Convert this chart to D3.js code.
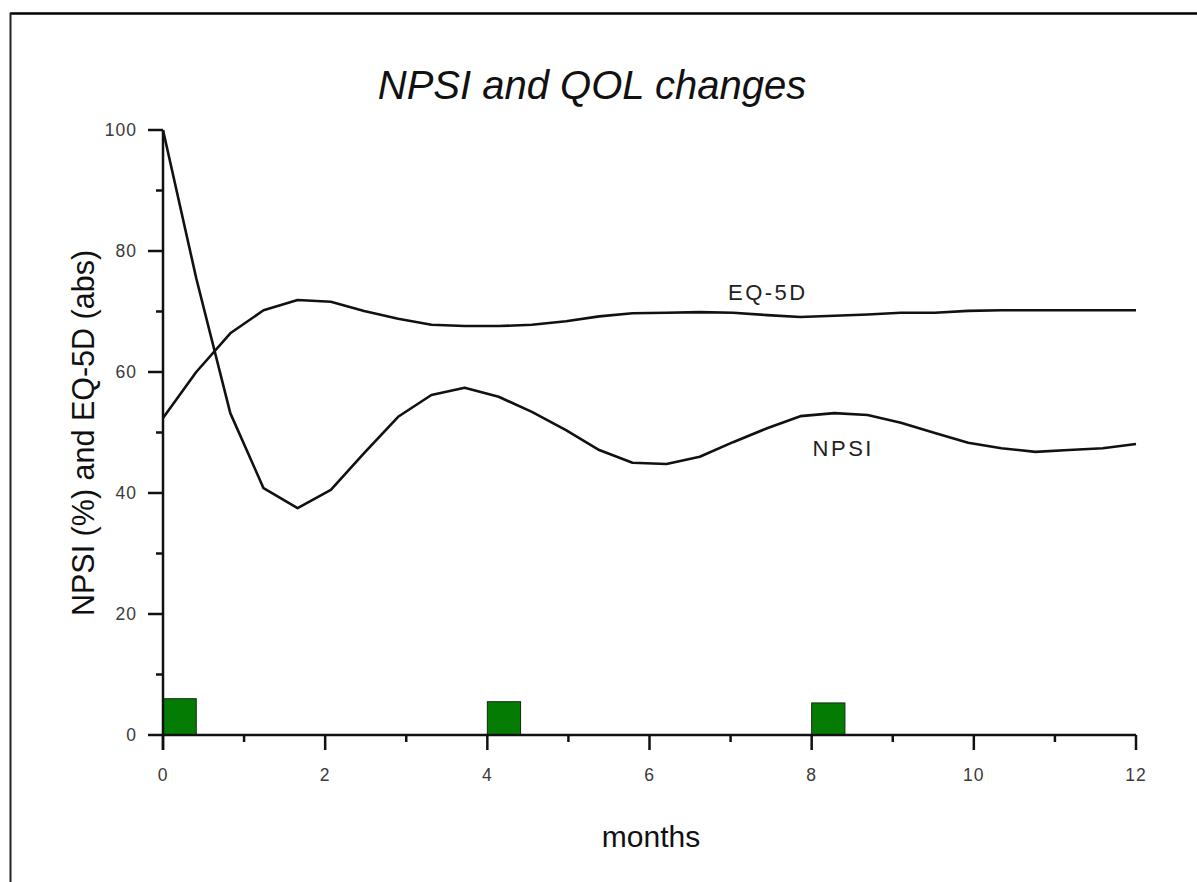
<!DOCTYPE html>
<html>

<head>
    <meta charset="utf-8">
    <style>
        body {
            margin: 0;
            background: white;
            font-family: "Liberation Sans", Arial, Helvetica, sans-serif;
        }

        svg {
            display: block;
        }

        .tick-label {
            font-size: 17.5px;
            fill: #3a3a3a;
            letter-spacing: 1px;
        }
    </style>
</head>

<body>
    <svg width="1197" height="882"></svg>
</body>

<script src="https://d3js.org/d3.v7.min.js"></script>

<script>
    // months of each measurement
    let months = [0, 0.41, 0.83, 1.24, 1.66, 2.07, 2.48, 2.90, 3.31, 3.72,
        4.14, 4.55, 4.97, 5.38, 5.79, 6.21, 6.62, 7.03, 7.45, 7.86,
        8.28, 8.69, 9.10, 9.52, 9.93, 10.34, 10.76, 11.17, 11.59, 12]

    // NPSI in %
    let npsi = [100, 75.5, 53.2, 40.8, 37.5, 40.5, 46.6, 52.6, 56.2, 57.4,
        55.9, 53.4, 50.4, 47.1, 45.0, 44.8, 46.0, 48.4, 50.7, 52.7,
        53.2, 52.9, 51.6, 49.9, 48.3, 47.4, 46.8, 47.1, 47.4, 48.1]

    // EQ-5D (abs)
    let eq5d = [52.4, 60.0, 66.4, 70.2, 71.9, 71.6, 70.1, 68.8, 67.8, 67.6,
        67.6, 67.8, 68.4, 69.2, 69.7, 69.8, 69.9, 69.8, 69.4, 69.1,
        69.3, 69.5, 69.8, 69.8, 70.1, 70.2, 70.2, 70.2, 70.2, 70.2]

    // green blocks (treatment sessions)
    let barMonths = [0, 4, 8]
    let barValues = [6.0, 5.5, 5.3]

    let xTicks = [0, 2, 4, 6, 8, 10, 12]
    let yTicks = [0, 20, 40, 60, 80, 100]

    let width = 1197
    let height = 882

    let svg = d3.select("svg")

    // frame (top and left edge only, like the cropped original)
    svg.append("line")
        .attr("x1", 10).attr("x2", width)
        .attr("y1", 13.5).attr("y2", 13.5)
        .style("stroke", "#000").style("stroke-width", 2.5)
    svg.append("line")
        .attr("x1", 10.5).attr("x2", 10.5)
        .attr("y1", 13).attr("y2", height)
        .style("stroke", "#222").style("stroke-width", 2)

    let x = d3.scaleLinear()
        .domain([0, 12])
        .range([163, 1136])

    let y = d3.scaleLinear()
        .domain([0, 100])
        .range([735, 130])

    let barWidth = x(0.41) - x(0)

    // bars
    svg.selectAll(".bar")
        .data(barMonths)
        .join("rect")
        .attr("class", "bar")
        .attr("x", d => x(d))
        .attr("y", (d, i) => y(barValues[i]))
        .attr("width", barWidth)
        .attr("height", (d, i) => y(0) - y(barValues[i]))
        .style("fill", "#047c04")
        .style("stroke", "#0d2b0d")
        .style("stroke-width", 1)

    // axes
    let xAxis = svg.append("g")
        .attr("transform", "translate(0," + y(0) + ")")
    xAxis.append("line")
        .attr("x1", x(0)).attr("x2", x(12))
        .style("stroke", "#111").style("stroke-width", 2.5)
    xAxis.selectAll(".xmajor")
        .data(xTicks)
        .join("line")
        .attr("x1", d => x(d)).attr("x2", d => x(d))
        .attr("y1", 0).attr("y2", 15)
        .style("stroke", "#111").style("stroke-width", 2.5)
    xAxis.selectAll(".xminor")
        .data(d3.range(1, 12, 2))
        .join("line")
        .attr("x1", d => x(d)).attr("x2", d => x(d))
        .attr("y1", 0).attr("y2", 7)
        .style("stroke", "#111").style("stroke-width", 2.5)
    xAxis.selectAll(".xlabel")
        .data(xTicks)
        .join("text")
        .attr("class", "tick-label")
        .attr("x", d => x(d))
        .attr("y", 46)
        .attr("text-anchor", "middle")
        .text(d => d)

    let yAxis = svg.append("g")
        .attr("transform", "translate(" + x(0) + ",0)")
    yAxis.append("line")
        .attr("y1", y(0) + 15).attr("y2", y(100))
        .style("stroke", "#111").style("stroke-width", 2.5)
    yAxis.selectAll(".ymajor")
        .data(yTicks)
        .join("line")
        .attr("x1", -15).attr("x2", 0)
        .attr("y1", d => y(d)).attr("y2", d => y(d))
        .style("stroke", "#111").style("stroke-width", 2.5)
    yAxis.selectAll(".yminor")
        .data(d3.range(10, 100, 20))
        .join("line")
        .attr("x1", -7).attr("x2", 0)
        .attr("y1", d => y(d)).attr("y2", d => y(d))
        .style("stroke", "#111").style("stroke-width", 2.5)
    yAxis.selectAll(".ylabel")
        .data(yTicks)
        .join("text")
        .attr("class", "tick-label")
        .attr("x", -26)
        .attr("y", d => y(d))
        .attr("dy", "0.35em")
        .attr("text-anchor", "end")
        .text(d => d)

    // lines
    let line = d3.line()
        .x((d, i) => x(months[i]))
        .y(d => y(d))

    svg.append("path")
        .datum(npsi)
        .attr("d", line)
        .style("fill", "none")
        .style("stroke", "#111")
        .style("stroke-width", 2.6)
        .style("stroke-linejoin", "round")

    svg.append("path")
        .datum(eq5d)
        .attr("d", line)
        .style("fill", "none")
        .style("stroke", "#111")
        .style("stroke-width", 2.6)
        .style("stroke-linejoin", "round")

    // series labels
    svg.append("text")
        .attr("x", x(7.46))
        .attr("y", y(71.9))
        .attr("text-anchor", "middle")
        .style("font-size", "22px")
        .style("letter-spacing", "2.5px")
        .style("fill", "#222")
        .text("EQ-5D")

    svg.append("text")
        .attr("x", x(8.39))
        .attr("y", y(46.1))
        .attr("text-anchor", "middle")
        .style("font-size", "22px")
        .style("letter-spacing", "2.5px")
        .style("fill", "#222")
        .text("NPSI")

    // titles
    svg.append("text")
        .attr("x", 592)
        .attr("y", 99)
        .attr("text-anchor", "middle")
        .style("font-size", "40px")
        .style("font-style", "italic")
        .style("fill", "#111")
        .text("NPSI and QOL changes")

    svg.append("text")
        .attr("x", 651)
        .attr("y", 847)
        .attr("text-anchor", "middle")
        .style("font-size", "30px")
        .style("fill", "#111")
        .text("months")

    svg.append("text")
        .attr("transform", "translate(94,433) rotate(-90)")
        .attr("text-anchor", "middle")
        .style("font-size", "30.5px")
        .style("fill", "#111")
        .text("NPSI (%) and EQ-5D (abs)")
</script>

</html>
